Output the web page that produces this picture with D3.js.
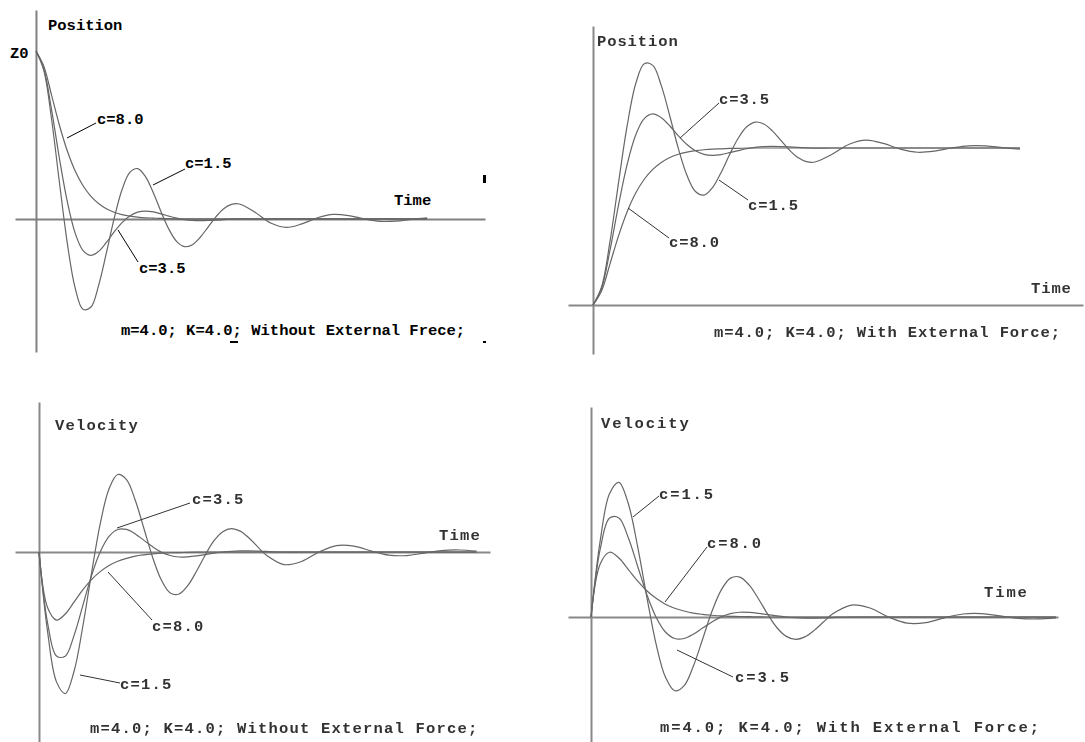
<!DOCTYPE html>
<html>
<head>
<meta charset="utf-8">
<script src="https://cdn.jsdelivr.net/npm/d3@7/dist/d3.min.js"></script>
<style>
  body { margin: 0; background: #fff; }
  svg text { font-family: "Liberation Mono", "Courier New", monospace; font-weight: bold; font-size: 15.5px; }
</style>
</head>
<body>
<svg id="chart" width="1085" height="742"></svg>
<script>
// sample times (s): every 0.5 up to 13, then every 1
const time = [0, 0.5, 1, 1.5, 2, 2.5, 3, 3.5, 4, 4.5, 5, 5.5, 6, 6.5, 7, 7.5, 8, 8.5, 9, 9.5, 10, 10.5, 11, 11.5, 12, 12.5, 13,
  14, 15, 16, 17, 18, 19, 20, 21, 22, 23, 24, 25];

const labels = ["c=1.5", "c=3.5", "c=8.0"];

// position, no external force (in units of Z0)
const posFree15 = [1, 0.885, 0.592, 0.217, -0.142, -0.409, -0.537, -0.526, -0.397, -0.202, 0.004, 0.174, 0.277, 0.300, 0.252, 0.156, 0.042, -0.062, -0.135, -0.165, -0.153, -0.109, -0.048, 0.013, 0.061, 0.087, 0.089,
  0.040, -0.024, -0.050, -0.029, 0.007, 0.027, 0.020, 0.000, -0.014, -0.013, -0.002, 0.007];
const posFree35 = [1, 0.894, 0.648, 0.360, 0.104, -0.083, -0.187, -0.217, -0.193, -0.140, -0.077, -0.022, 0.018, 0.041, 0.047, 0.042, 0.030, 0.017, 0.005, -0.004, -0.009, -0.010, -0.009, -0.007, -0.004, -0.001, 0.001,
  0, 0, 0, 0, 0, 0, 0, 0, 0, 0, 0, 0];
const posFree80 = [1, 0.910, 0.736, 0.558, 0.406, 0.287, 0.199, 0.136, 0.092, 0.061, 0.040, 0.026, 0.017, 0.011, 0.007, 0.005, 0.003, 0.002, 0.001, 0, 0, 0, 0, 0, 0, 0, 0,
  0, 0, 0, 0, 0, 0, 0, 0, 0, 0, 0, 0];

// position, with external force (step response)
const posForced15 = [0, 0.115, 0.408, 0.783, 1.142, 1.409, 1.537, 1.526, 1.397, 1.202, 0.996, 0.826, 0.723, 0.700, 0.748, 0.844, 0.958, 1.062, 1.135, 1.165, 1.153, 1.109, 1.048, 0.987, 0.939, 0.913, 0.911,
  0.960, 1.024, 1.050, 1.029, 0.993, 0.973, 0.980, 1.000, 1.014, 1.013, 1.002, 0.993];
const posForced35 = [0, 0.106, 0.352, 0.640, 0.896, 1.083, 1.187, 1.217, 1.193, 1.140, 1.077, 1.022, 0.982, 0.959, 0.953, 0.958, 0.970, 0.983, 0.995, 1.004, 1.009, 1.010, 1.009, 1.007, 1.004, 1.001, 0.999,
  1, 1, 1, 1, 1, 1, 1, 1, 1, 1, 1, 1];
const posForced80 = [0, 0.090, 0.264, 0.442, 0.594, 0.713, 0.801, 0.864, 0.908, 0.939, 0.960, 0.974, 0.983, 0.989, 0.993, 0.995, 0.997, 0.998, 0.999, 1, 1, 1, 1, 1, 1, 1, 1,
  1, 1, 1, 1, 1, 1, 1, 1, 1, 1, 1, 1];

// velocity, no external force
const velFree15 = [0, -0.437, -0.702, -0.765, -0.646, -0.404, -0.115, 0.154, 0.341, 0.419, 0.391, 0.280, 0.126, -0.031, -0.153, -0.221, -0.227, -0.182, -0.104, -0.016, 0.061, 0.110, 0.127, 0.113, 0.076, 0.028, -0.018,
  -0.068, -0.051, 0.000, 0.035, 0.032, 0.005, -0.017, -0.019, -0.006, 0.008, 0.011, 0.005];
const velFree35 = [0, -0.388, -0.562, -0.563, -0.452, -0.291, -0.128, 0.001, 0.085, 0.122, 0.122, 0.098, 0.063, 0.028, -0.001, -0.019, -0.027, -0.026, -0.021, -0.014, -0.006, 0.000, 0.004, 0.006, 0.006, 0.005, 0.003,
  0, 0, 0, 0, 0, 0, 0, 0, 0, 0, 0, 0];
const velFree80 = [0, -0.303, -0.368, -0.335, -0.271, -0.205, -0.149, -0.106, -0.073, -0.050, -0.034, -0.022, -0.015, -0.010, -0.006, -0.004, -0.003, -0.002, -0.001, 0, 0, 0, 0, 0, 0, 0, 0,
  0, 0, 0, 0, 0, 0, 0, 0, 0, 0, 0, 0];

// velocity, with external force
const velForced15 = [0, 0.437, 0.702, 0.765, 0.646, 0.404, 0.115, -0.154, -0.341, -0.419, -0.391, -0.280, -0.126, 0.031, 0.153, 0.221, 0.227, 0.182, 0.104, 0.016, -0.061, -0.110, -0.127, -0.113, -0.076, -0.028, 0.018,
  0.068, 0.051, 0.000, -0.035, -0.032, -0.005, 0.017, 0.019, 0.006, -0.008, -0.011, -0.005];
const velForced35 = [0, 0.388, 0.562, 0.563, 0.452, 0.291, 0.128, -0.001, -0.085, -0.122, -0.122, -0.098, -0.063, -0.028, 0.001, 0.019, 0.027, 0.026, 0.021, 0.014, 0.006, 0.000, -0.004, -0.006, -0.006, -0.005, -0.003,
  0, 0, 0, 0, 0, 0, 0, 0, 0, 0, 0, 0];
const velForced80 = [0, 0.303, 0.368, 0.335, 0.271, 0.205, 0.149, 0.106, 0.073, 0.050, 0.034, 0.022, 0.015, 0.010, 0.006, 0.004, 0.003, 0.002, 0.001, 0, 0, 0, 0, 0, 0, 0, 0,
  0, 0, 0, 0, 0, 0, 0, 0, 0, 0, 0, 0];

const panels = [
  {
    series: [posFree15, posFree35, posFree80],
    xDom: [-1.34, 28.7], xRange: [15, 485],
    yDom: [-0.792, 1.244], yRange: [352, 10],
    spacing: 0, soft: false, ink: "#000", curve: "#666", axis: "#808080",
    title: ["Position", 48, 30], time: [394, 205],
    note: ["m=4.0; K=4.0; Without External Frece;", 121, 335],
    extra: [["Z0", 10, 58]],
    tags: [
      { i: 2, tx: 97, ty: 124, from: [96, 123], to: [67, 138] },
      { i: 0, tx: 185, ty: 168, from: [185, 169], to: [153, 185] },
      { i: 1, tx: 139, ty: 273, from: [138, 262], to: [118, 230] }
    ]
  },
  {
    series: [posForced15, posForced35, posForced80],
    xDom: [-1.464, 28.69], xRange: [568, 1083],
    yDom: [-0.312, 1.777], yRange: [354, 26],
    spacing: 0.9, soft: true, ink: "#333", curve: "#666", axis: "#888",
    title: ["Position", 597, 46], time: [1031, 293],
    note: ["m=4.0; K=4.0; With External Force;", 714, 337],
    extra: [],
    tags: [
      { i: 1, tx: 719, ty: 104, from: [719, 103], to: [680, 138] },
      { i: 0, tx: 748, ty: 210, from: [748, 200], to: [719, 180] },
      { i: 2, tx: 669, ty: 247, from: [669, 238], to: [628, 208] }
    ]
  },
  {
    series: [velFree15, velFree35, velFree80],
    xDom: [-1.371, 25.77], xRange: [15, 490],
    yDom: [-1.027, 0.811], yRange: [742, 402],
    spacing: 1.2, soft: true, ink: "#333", curve: "#666", axis: "#888",
    title: ["Velocity", 55, 430], time: [439, 540],
    note: ["m=4.0; K=4.0; Without External Force;", 90, 733],
    extra: [],
    tags: [
      { i: 1, tx: 192, ty: 504, from: [190, 503], to: [117, 528] },
      { i: 2, tx: 152, ty: 631, from: [152, 620], to: [108, 572] },
      { i: 0, tx: 120, ty: 689, from: [120, 683], to: [80, 675] }
    ]
  },
  {
    series: [velForced15, velForced35, velForced80],
    xDom: [-1.237, 25.11], xRange: [568, 1058],
    yDom: [-0.710, 1.193], yRange: [742, 407],
    spacing: 1.9, soft: true, ink: "#333", curve: "#666", axis: "#888",
    title: ["Velocity", 601, 428], time: [984, 597],
    note: ["m=4.0; K=4.0; With External Force;", 660, 732],
    extra: [],
    tags: [
      { i: 0, tx: 659, ty: 499, from: [659, 496], to: [633, 517] },
      { i: 2, tx: 707, ty: 548, from: [707, 547], to: [665, 602] },
      { i: 1, tx: 735, ty: 682, from: [733, 677], to: [677, 650] }
    ]
  }
];

const svg = d3.select("#chart");

svg.append("defs").append("filter")
  .attr("id", "soft")
  .append("feGaussianBlur")
  .attr("stdDeviation", 0.6);

panels.forEach(p => {
  const g = svg.append("g");
  if (p.soft) g.attr("filter", "url(#soft)");

  const x = d3.scaleLinear().domain(p.xDom).range(p.xRange);
  const y = d3.scaleLinear().domain(p.yDom).range(p.yRange);

  // axes through the origin, no ticks
  g.append("g")
    .attr("transform", "translate(0," + y(0) + ")")
    .call(d3.axisBottom(x).tickValues([]).tickSizeOuter(0))
    .select(".domain").attr("stroke", p.axis).attr("stroke-width", 2);
  g.append("g")
    .attr("transform", "translate(" + x(0) + ",0)")
    .call(d3.axisLeft(y).tickValues([]).tickSizeOuter(0))
    .select(".domain").attr("stroke", p.axis).attr("stroke-width", 2);

  const line = d3.line()
    .x(d => x(d[0]))
    .y(d => y(d[1]))
    .curve(d3.curveCatmullRom);

  g.selectAll(".curve")
    .data(p.series)
    .enter().append("path")
    .attr("class", "curve")
    .attr("fill", "none")
    .attr("stroke", p.curve)
    .attr("stroke-width", 1.2)
    .attr("d", s => line(time.map((t, k) => [t, s[k]])));

  // leader lines and c= labels
  g.selectAll(".leader")
    .data(p.tags)
    .enter().append("line")
    .attr("class", "leader")
    .attr("x1", d => d.from[0]).attr("y1", d => d.from[1])
    .attr("x2", d => d.to[0]).attr("y2", d => d.to[1])
    .attr("stroke", p.ink).attr("stroke-width", 1);

  g.selectAll(".tag")
    .data(p.tags)
    .enter().append("text")
    .attr("class", "tag")
    .attr("x", d => d.tx).attr("y", d => d.ty)
    .attr("fill", p.ink)
    .attr("letter-spacing", p.spacing)
    .text(d => labels[d.i]);

  const texts = [p.title, ["Time", p.time[0], p.time[1]], p.note].concat(p.extra);
  texts.forEach(t => {
    g.append("text")
      .attr("x", t[1]).attr("y", t[2])
      .attr("fill", p.ink)
      .attr("letter-spacing", p.spacing)
      .text(t[0]);
  });
});

// stray marks in the first panel
const marks = [[483, 175, 3, 8], [230, 341, 8, 2], [483, 341, 3, 2]];
svg.selectAll(".mark")
  .data(marks)
  .enter().append("rect")
  .attr("x", d => d[0]).attr("y", d => d[1])
  .attr("width", d => d[2]).attr("height", d => d[3])
  .attr("fill", "#000");
</script>
</body>
</html>
